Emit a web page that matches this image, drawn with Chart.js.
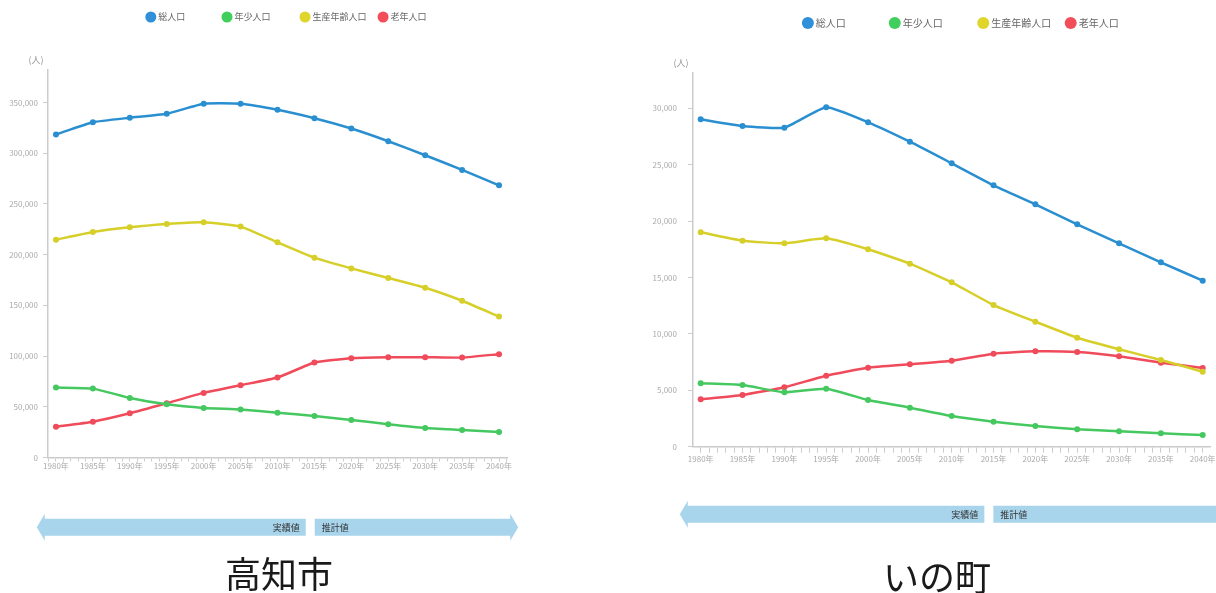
<!DOCTYPE html>
<html lang="ja">
<head>
<meta charset="utf-8">
<script src="https://cdn.jsdelivr.net/npm/chart.js@4.4.0/dist/chart.umd.min.js"></script>
<style>
  html, body { margin: 0; padding: 0; background: #fff; width: 1216px; height: 593px; overflow: hidden; position: relative; }
  .box { position: absolute; top: 0; height: 550px; }
  #box_kochi { left: 0; width: 540px; }
  #box_ino { left: 640px; width: 600px; }
  .title { position: absolute; width: 300px; text-align: center; font-family: "Noto Sans CJK JP", sans-serif; font-size: 36px; line-height: 36px; color: #1a1a1a; }
</style>
</head>
<body>
<div class="box" id="box_kochi"><canvas id="chart_kochi"></canvas></div>
<div class="box" id="box_ino"><canvas id="chart_ino"></canvas></div>
<div class="title" style="left:129px; top:554px;">高知市</div>
<div class="title" style="left:787px; top:557px;">いの町</div>
<script>
// 年次
const years = [1980, 1985, 1990, 1995, 2000, 2005, 2010, 2015, 2020, 2025, 2030, 2035, 2040];
const seriesNames = ['総人口', '年少人口', '生産年齢人口', '老年人口'];

// 高知市
const kochiTotal = [318400, 330500, 334900, 338800, 348700, 348700, 342800, 334500, 324300, 311800, 298000, 283500, 268300];
const kochiYoung = [68900, 67900, 58700, 52500, 48900, 47200, 44200, 41000, 37000, 32800, 29100, 27200, 25200];
const kochiWork = [214700, 222300, 226900, 230200, 231800, 227600, 212100, 197000, 186400, 176900, 167300, 154500, 139000];
const kochiOld = [30400, 35300, 43600, 53500, 63700, 71300, 78800, 93600, 97900, 98900, 98900, 98500, 101900];
const kochiTicks = [0, 50000, 100000, 150000, 200000, 250000, 300000, 350000];

// いの町
const inoTotal = [29030, 28430, 28280, 30090, 28760, 27040, 25120, 23170, 21490, 19715, 18030, 16350, 14720];
const inoYoung = [5620, 5470, 4820, 5140, 4140, 3460, 2720, 2220, 1835, 1540, 1365, 1185, 1035];
const inoWork = [19005, 18265, 18030, 18475, 17500, 16225, 14575, 12560, 11080, 9660, 8635, 7685, 6650];
const inoOld = [4200, 4585, 5265, 6295, 7005, 7305, 7625, 8245, 8455, 8395, 8015, 7450, 6980];
const inoTicks = [0, 5000, 10000, 15000, 20000, 25000, 30000];

const colors = ['#2a8fd0', '#45c860', '#d6cf2a', '#ef4b5b'];
const legendColors = ['#2f8fd8', '#3fcf5c', '#e0d52a', '#f24e5a'];
const fontFamily = '"Noto Sans CJK JP", "Noto Sans", sans-serif';

function toPoints(values) {
    return years.map((y, i) => ({ x: y, y: values[i] }));
}

// 凡例・単位・実績値/推計値の帯
const extras = {
    id: 'extras',
    afterDraw(chart, args, opts) {
        const ctx = chart.ctx;
        const area = chart.chartArea;
        const xs = chart.scales.x;
        ctx.save();

        ctx.fillStyle = '#999';
        ctx.font = '9px ' + fontFamily;
        ctx.textAlign = 'center';
        ctx.textBaseline = 'middle';
        ctx.fillText('(人)', area.left - 12, area.top - 10);

        const w = area.right - area.left;
        seriesNames.forEach((name, i) => {
            const cx = area.left + opts.legendPos[i] * w;
            ctx.fillStyle = legendColors[i];
            ctx.beginPath();
            ctx.arc(cx, opts.legendY, opts.legendR, 0, Math.PI * 2);
            ctx.fill();
            ctx.fillStyle = '#666';
            ctx.font = opts.legendFont + 'px ' + fontFamily;
            ctx.textAlign = 'left';
            ctx.fillText(name, cx + opts.legendR + 2, opts.legendY);
        });

        const cy = opts.bandY, bh = 17, hh = 27, hl = 8;
        const x0 = xs.getPixelForValue(opts.bandStart);
        const g0 = xs.getPixelForValue(opts.bandSplit) - 5;
        const g1 = g0 + 9;
        const x1 = xs.getPixelForValue(opts.bandEnd);
        ctx.fillStyle = '#a9d5ec';
        ctx.beginPath();
        ctx.moveTo(x0, cy);
        ctx.lineTo(x0 + hl, cy - hh / 2);
        ctx.lineTo(x0 + hl, cy - bh / 2);
        ctx.lineTo(g0, cy - bh / 2);
        ctx.lineTo(g0, cy + bh / 2);
        ctx.lineTo(x0 + hl, cy + bh / 2);
        ctx.lineTo(x0 + hl, cy + hh / 2);
        ctx.closePath();
        ctx.fill();
        ctx.beginPath();
        ctx.moveTo(g1, cy - bh / 2);
        ctx.lineTo(x1 - hl, cy - bh / 2);
        ctx.lineTo(x1 - hl, cy - hh / 2);
        ctx.lineTo(x1, cy);
        ctx.lineTo(x1 - hl, cy + hh / 2);
        ctx.lineTo(x1 - hl, cy + bh / 2);
        ctx.lineTo(g1, cy + bh / 2);
        ctx.closePath();
        ctx.fill();

        ctx.fillStyle = '#333';
        ctx.font = '9px ' + fontFamily;
        ctx.textAlign = 'right';
        ctx.fillText('実績値', g0 - 6, cy);
        ctx.textAlign = 'left';
        ctx.fillText('推計値', g1 + 7, cy);
        ctx.restore();
    }
};

function makeChart(id, series, yMax, yTicks, o) {
    const datasets = series.map((vals, i) => ({
        label: seriesNames[i],
        data: toPoints(vals),
        borderColor: colors[i],
        backgroundColor: colors[i],
        borderWidth: 2.5,
        pointRadius: 3,
        pointBackgroundColor: colors[i],
        pointBorderWidth: 0,
        tension: 0.15
    }));
    return new Chart(document.getElementById(id), {
        type: 'line',
        data: { datasets: datasets },
        plugins: [extras],
        options: {
            responsive: true,
            maintainAspectRatio: false,
            animation: false,
            layout: { padding: o.padding },
            plugins: {
                legend: { display: false },
                tooltip: { enabled: false },
                extras: o.extras
            },
            scales: {
                x: {
                    type: 'linear',
                    min: o.xMin,
                    max: o.xMax,
                    afterBuildTicks: (axis) => {
                        const t = [];
                        for (let y = Math.ceil(o.xMin); y <= Math.floor(o.xMax); y++) t.push({ value: y });
                        axis.ticks = t;
                    },
                    ticks: {
                        autoSkip: false,
                        maxRotation: 0,
                        minRotation: 0,
                        padding: o.xPad,
                        color: '#aaa',
                        font: { size: 8, family: fontFamily },
                        callback: (v) => (v % 5 === 0 ? v + '年' : '')
                    },
                    grid: { drawOnChartArea: false, tickLength: o.xTick, color: '#ccc' },
                    border: { color: '#ccc', width: 1.5 },
                    afterFit: (s) => { s.height = 28; }
                },
                y: {
                    min: 0,
                    max: yMax,
                    afterBuildTicks: (axis) => { axis.ticks = yTicks.map(v => ({ value: v })); },
                    ticks: {
                        padding: o.yPad,
                        color: '#aaa',
                        font: { size: 8, family: fontFamily },
                        callback: (v) => v.toLocaleString('en-US')
                    },
                    grid: { drawOnChartArea: false, tickLength: 5, color: '#ccc' },
                    border: { color: '#ccc', width: 1.5 },
                    afterFit: (s) => { s.width = o.yWidth; }
                }
            }
        }
    });
}

let chart_kochi = makeChart('chart_kochi', [kochiTotal, kochiYoung, kochiWork, kochiOld], 382000, kochiTicks, {
    padding: { top: 70, right: 33, bottom: 64.5, left: 0 },
    xMin: 1978.92, xMax: 2041.08, xPad: 0, xTick: 4, yPad: 5, yWidth: 48,
    extras: {
        legendPos: [0.224, 0.39, 0.56, 0.73], legendY: 17, legendR: 5.5, legendFont: 9,
        bandY: 527.3, bandStart: 1977.4, bandSplit: 2014.5, bandEnd: 2042.6
    }
});

let chart_ino = makeChart('chart_ino', [inoTotal, inoYoung, inoWork, inoOld], 33130, inoTicks, {
    padding: { top: 73, right: 29.6, bottom: 75.3, left: 0 },
    xMin: 1979.08, xMax: 2040.92, xPad: 1, xTick: 6, yPad: 11, yWidth: 53,
    extras: {
        legendPos: [0.222, 0.39, 0.561, 0.73], legendY: 23, legendR: 6, legendFont: 10,
        bandY: 514.3, bandStart: 1977.5, bandSplit: 2014.5, bandEnd: 2042.6
    }
});
</script>
</body>
</html>
